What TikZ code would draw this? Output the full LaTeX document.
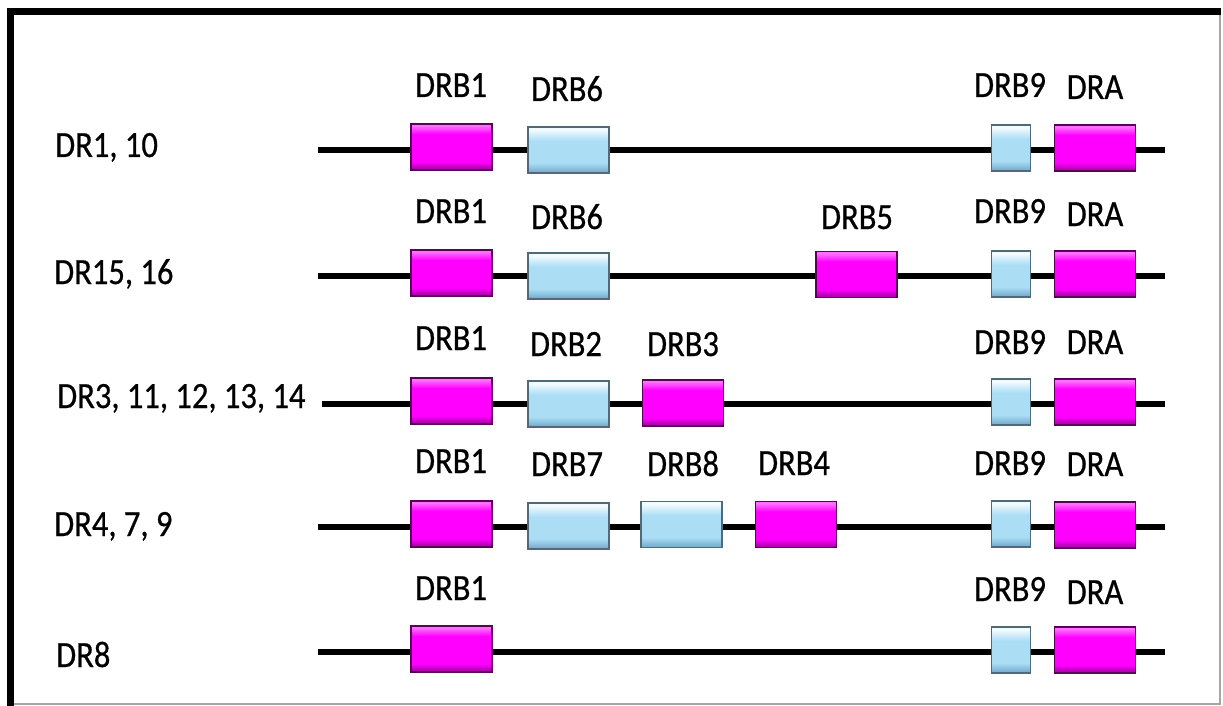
\documentclass[tikz,border=0pt]{standalone}
\usepackage{fontspec}
\setmainfont[FakeStretch=0.88,FakeBold=0.6]{Carlito}
\definecolor{mag}{HTML}{FF00FF}
\definecolor{magdark}{HTML}{B000B0}
\definecolor{maglight}{HTML}{FF70FF}
\definecolor{magedge}{HTML}{5A005A}
\definecolor{lblue}{HTML}{ABDDF5}
\definecolor{lbluedark}{HTML}{78B2D0}
\definecolor{lbluetop}{HTML}{F2FBFF}
\definecolor{bedge}{HTML}{4F6A78}
\pgfdeclareverticalshading{magshade}{100bp}{color(0bp)=(magdark); color(27bp)=(magdark); color(34bp)=(mag); color(64bp)=(mag); color(73bp)=(maglight); color(100bp)=(maglight)}
\pgfdeclareverticalshading{blueshade}{100bp}{color(0bp)=(lbluedark); color(27bp)=(lbluedark); color(36bp)=(lblue); color(60bp)=(lblue); color(72bp)=(lbluetop); color(100bp)=(lbluetop)}
\begin{document}
\begin{tikzpicture}[x=1pt,y=-1pt,
  magbox/.style={draw=magedge, line width=1.5pt, minimum width=81pt, minimum height=46pt,
     inner sep=0pt, shading=magshade},
  bluebox/.style={draw=bedge, line width=1.5pt, minimum width=81pt, minimum height=46pt,
     inner sep=0pt, shading=blueshade},
  smallbox/.style={bluebox, minimum width=39pt},
  glab/.style={anchor=base, font=\fontsize{37}{40}\selectfont, inner sep=0pt},
  rlab/.style={anchor=base west, font=\fontsize{37}{40}\selectfont, inner sep=0pt},
  backbone/.style={line width=6.5pt}]
\useasboundingbox (0,0) rectangle (1223,706);
\fill[white] (0,0) rectangle (1223,706);
% frame
\draw[gray!70, line width=1.5pt] (14,704) -- (1220,704) -- (1220,15);
\draw[black, line width=7pt] (10.5,706) -- (10.5,12) -- (1221,12);

% ---------- row 1 ----------
\coordinate (s1) at (318,150); \coordinate (e1) at (1165,150);
\draw[backbone] (s1) -- (e1);
\node[magbox] (r1b1) at (451.5,147) {};
\node[bluebox] (r1b6) at (568.5,150) {};
\node[smallbox] (r1b9) at (1011,148) {};
\node[magbox] (r1a) at (1095,148) {};
\node[rlab] (l1) at (55,157) {DR1, 10};
\node[glab] (t1b1) at (451,97) {DRB1};
\node[glab] (t1b6) at (567,101) {DRB6};
\node[glab] (t1b9) at (1010,97) {DRB9};
\node[glab] (t1a) at (1095,99) {DRA};

% ---------- row 2 ----------
\coordinate (s2) at (318,276); \coordinate (e2) at (1165,276);
\draw[backbone] (s2) -- (e2);
\node[magbox] (r2b1) at (451.5,273) {};
\node[bluebox] (r2b6) at (568.5,276) {};
\node[magbox] (r2b5) at (856.5,274.5) {};
\node[smallbox] (r2b9) at (1011,274) {};
\node[magbox] (r2a) at (1095,274) {};
\node[rlab] (l2) at (54,284) {DR15, 16};
\node[glab] (t2b1) at (451,223) {DRB1};
\node[glab] (t2b6) at (567,229) {DRB6};
\node[glab] (t2b5) at (857,229) {DRB5};
\node[glab] (t2b9) at (1010,223) {DRB9};
\node[glab] (t2a) at (1095,226) {DRA};

% ---------- row 3 ----------
\coordinate (s3) at (322,404); \coordinate (e3) at (1165,404);
\draw[backbone] (s3) -- (e3);
\node[magbox] (r3b1) at (451.5,401) {};
\node[bluebox] (r3b2) at (568.5,404) {};
\node[magbox] (r3b3) at (683,403) {};
\node[smallbox] (r3b9) at (1011,402) {};
\node[magbox] (r3a) at (1095,402) {};
\node[rlab] (l3) at (57,408) {DR3, 11, 12, 13, 14};
\node[glab] (t3b1) at (451,350) {DRB1};
\node[glab] (t3b2) at (566,356) {DRB2};
\node[glab] (t3b3) at (683,356) {DRB3};
\node[glab] (t3b9) at (1010,354) {DRB9};
\node[glab] (t3a) at (1095,354) {DRA};

% ---------- row 4 ----------
\coordinate (s4) at (318,527); \coordinate (e4) at (1165,527);
\draw[backbone] (s4) -- (e4);
\node[magbox] (r4b1) at (451.5,524) {};
\node[bluebox] (r4b7) at (568.5,526) {};
\node[bluebox] (r4b8) at (681.5,524.5) {};
\node[magbox] (r4b4) at (796,524.5) {};
\node[smallbox] (r4b9) at (1011,524) {};
\node[magbox] (r4a) at (1095,525) {};
\node[rlab] (l4) at (54,536) {DR4, 7, 9};
\node[glab] (t4b1) at (451,473) {DRB1};
\node[glab] (t4b7) at (567,476) {DRB7};
\node[glab] (t4b8) at (683,476) {DRB8};
\node[glab] (t4b4) at (794,475) {DRB4};
\node[glab] (t4b9) at (1010,475) {DRB9};
\node[glab] (t4a) at (1095,476) {DRA};

% ---------- row 5 ----------
\coordinate (s5) at (318,652); \coordinate (e5) at (1165,652);
\draw[backbone] (s5) -- (e5);
\node[magbox] (r5b1) at (451.5,649) {};
\node[smallbox] (r5b9) at (1011,650) {};
\node[magbox] (r5a) at (1095,650) {};
\node[rlab] (l5) at (56,667) {DR8};
\node[glab] (t5b1) at (451,600) {DRB1};
\node[glab] (t5b9) at (1010,601) {DRB9};
\node[glab] (t5a) at (1095,604) {DRA};
\end{tikzpicture}
\end{document}
